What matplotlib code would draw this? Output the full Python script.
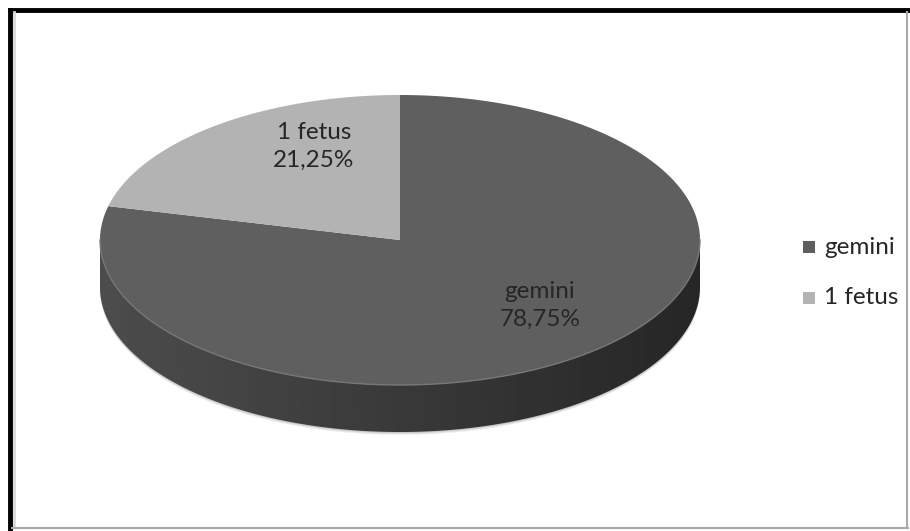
import matplotlib
matplotlib.use('Agg')
import matplotlib.pyplot as plt
import numpy as np
from matplotlib.patches import Polygon
from matplotlib.lines import Line2D

labels = ['gemini', '1 fetus']
values = [78.75, 21.25]
pct_text = ['78,75%', '21,25%']
colors = ['#5f5f5f', '#b3b3b3']

W, H = 910, 531
fig = plt.figure(figsize=(W / 100, H / 100), dpi=100)
ax = fig.add_axes([0, 0, 1, 1])
ax.set_xlim(0, W)
ax.set_ylim(H, 0)
ax.axis('off')

# pie geometry (pixels)
cx, cy, rx, ry, depth = 400, 240, 300, 145, 47


def pt(theta):
    # theta in degrees, math convention, y flipped for screen
    t = np.radians(theta)
    return cx + rx * np.cos(t), cy - ry * np.sin(t)


# slices go clockwise from 12 o'clock: gemini first, then 1 fetus
fracs = np.array(values) / sum(values)
starts = []
a = 90.0
for f in fracs:
    starts.append((a, a - f * 360))
    a -= f * 360

# side wall (front half, 180..360 degrees)
th = np.linspace(180, 360, 200)
xs, ys = pt(th)
side = np.concatenate([np.column_stack([xs, ys]),
                       np.column_stack([xs[::-1], ys[::-1] + depth])])
# soft shadow
for k, al in [(3, 0.06), (2, 0.08), (1, 0.1)]:
    ax.add_patch(Polygon(side + [0, k], closed=True, fc='k', ec='none', alpha=al, zorder=1))
sp = Polygon(side, closed=True, fc='none', ec='none', zorder=2)
ax.add_patch(sp)
grad = np.linspace(0.30, 0.15, 256).reshape(1, -1)
im = ax.imshow(grad, cmap='gray', vmin=0, vmax=1, extent=[cx - rx, cx + rx, cy + ry + depth + 5, cy - 5],
               aspect='auto', zorder=2)
im.set_clip_path(sp)
ax.set_xlim(0, W)
ax.set_ylim(H, 0)

# top faces
for (a0, a1), c in zip(starts, colors):
    th = np.linspace(a0, a1, 200)
    xs, ys = pt(th)
    poly = np.vstack([[cx, cy], np.column_stack([xs, ys])])
    ax.add_patch(Polygon(poly, closed=True, fc=c, ec='none', zorder=3))

# rim highlight on the front edge
th = np.linspace(180, 360, 200)
xs, ys = pt(th)
ax.plot(xs, ys, color='#777777', lw=1.0, zorder=4)

# data labels
lab_pos = [(540, 305), (314, 146)]
for (x, y), name, p in zip(lab_pos, labels, pct_text):
    ax.text(x, y, name + '\n' + p, ha='center', va='center', fontsize=17.5,
            family='Lato', color='#262626', linespacing=1.4, zorder=5)

# legend
for i, (name, c) in enumerate(zip(labels, colors)):
    y = 247 + i * 51
    ax.add_patch(plt.Rectangle((803, y - 6), 12, 12, fc=c, ec='none', zorder=5))
    ax.text(824, y, name, ha='left', va='center', fontsize=17.5, family='Lato',
            color='#262626', zorder=5)

# frame
ax.add_line(Line2D([10, 10], [10, 531], color='black', lw=3.5, solid_capstyle='projecting'))
ax.add_line(Line2D([10, 908], [10, 10], color='black', lw=3.5, solid_capstyle='projecting'))
ax.add_line(Line2D([13.5, 13.5], [12, 527], color='#d8d8d8', lw=2))
ax.add_line(Line2D([907, 907], [12, 528], color='#a8a8a8', lw=1.5))
ax.add_line(Line2D([12, 908], [528, 528], color='#a8a8a8', lw=1.5))

fig.savefig('out.png', dpi=100)
